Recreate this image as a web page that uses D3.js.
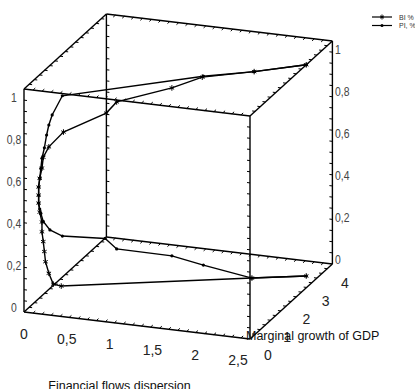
<!DOCTYPE html>
<html>
<head>
<meta charset="utf-8">
<script src="https://cdnjs.cloudflare.com/ajax/libs/d3/7.8.5/d3.min.js"></script>
<style>
  html, body { margin: 0; padding: 0; background: #fff; }
  svg { display: block; }
</style>
</head>
<body>
<svg id="chart" width="415" height="389"></svg>
<script>
// BI % series: financial flows dispersion, marginal growth of GDP, share
const biDispersion = [2.50, 2.04, 1.58, 1.31, 0.82, 0.73, 0.35, 0.22, 0.17, 0.16, 0.14, 0.13, 0.13,
                      0.13, 0.14, 0.16, 0.16, 0.17, 0.18, 0.19, 0.22, 0.26, 0.33, 2.02, 2.50];
const biGrowth     = [2.73, 2.22, 1.72, 1.43, 0.90, 0.79, 0.38, 0.24, 0.19, 0.17, 0.15, 0.14, 0.14,
                      0.14, 0.15, 0.17, 0.17, 0.19, 0.20, 0.21, 0.24, 0.28, 0.36, 2.20, 2.73];
const biShare      = [1.00, 0.99, 0.985, 0.948, 0.906, 0.861, 0.792, 0.731, 0.686, 0.639, 0.594, 0.555, 0.519,
                      0.483, 0.442, 0.397, 0.353, 0.308, 0.263, 0.217, 0.164, 0.114, 0.102, 0.065, 0.053];

// PI, % series
const piDispersion = [2.50, 2.04, 1.59, 0.34, 0.25, 0.22, 0.20, 0.18, 0.16, 0.15, 0.14, 0.13, 0.13,
                      0.13, 0.14, 0.15, 0.17, 0.23, 0.34, 0.72, 0.82, 1.31, 1.59, 2.02, 2.50];
const piGrowth     = [2.73, 2.22, 1.73, 0.37, 0.27, 0.24, 0.22, 0.20, 0.17, 0.16, 0.15, 0.14, 0.14,
                      0.14, 0.15, 0.16, 0.19, 0.25, 0.37, 0.78, 0.90, 1.43, 1.73, 2.20, 2.73];
const piShare      = [1.00, 0.99, 0.989, 0.955, 0.873, 0.829, 0.785, 0.728, 0.683, 0.638, 0.593, 0.555, 0.517,
                      0.483, 0.456, 0.436, 0.398, 0.358, 0.326, 0.299, 0.247, 0.195, 0.142, 0.065, 0.053];

// Axis ticks and labels
const xTicks = [0, 0.5, 1, 1.5, 2, 2.5];
const xTickLabels = ["0", "0,5", "1", "1,5", "2", "2,5"];
const yTicks = [0, 1, 2, 3, 4];
const yTickLabels = ["0", "1", "2", "3", "4"];
const zTicks = [0, 0.2, 0.4, 0.6, 0.8, 1];
const zTickLabels = ["0", "0,2", "0,4", "0,6", "0,8", "1"];
const seriesNames = ["BI %", "PI, %"];

const svg = d3.select("#chart");

// Axis scales normalised to the unit cube
const xScale = d3.scaleLinear().domain([0, 2.5]).range([0, 1]);
const yScale = d3.scaleLinear().domain([0, 4]).range([0, 1]);
const zScale = d3.scaleLinear().domain([0, 1]).range([0, 1]);

// Parallel projection: screen vectors of the three box edges
const origin = [24, 312];
const ex = [226, 27], ey = [82.4, -75], ez = [0, -223];
function project(x, y, z) {
  const a = xScale(x), b = yScale(y), c = zScale(z);
  return [origin[0] + ex[0] * a + ey[0] * b + ez[0] * c,
          origin[1] + ex[1] * a + ey[1] * b + ez[1] * c];
}

const [x0, x1] = xScale.domain(), [y0, y1] = yScale.domain(), [z0, z1] = zScale.domain();
const ink = "#000";

// Box edges with tick marks
const gBox = svg.append("g");
const edges = [];
[y0, y1].forEach(y => [z0, z1].forEach(z => edges.push({axis: "x", y, z, dir: [0, y === y0 ? 1 : -1, 0]})));
[x0, x1].forEach(x => [z0, z1].forEach(z => edges.push({axis: "y", x, z, dir: [x === x0 ? 1 : -1, 0, 0]})));
[x0, x1].forEach(x => [y0, y1].forEach(y => edges.push({axis: "z", x, y, dir: [x === x0 ? 1 : -1, 0, 0]})));

const tickStep = {x: 0.1, y: 0.25, z: 0.05};
const tickLen = 3;

edges.forEach(e => {
  const pt = v => e.axis === "x" ? [v, e.y, e.z] : e.axis === "y" ? [e.x, v, e.z] : [e.x, e.y, v];
  const dom = e.axis === "x" ? [x0, x1] : e.axis === "y" ? [y0, y1] : [z0, z1];
  const a = project(...pt(dom[0])), b = project(...pt(dom[1]));
  gBox.append("line").attr("x1", a[0]).attr("y1", a[1]).attr("x2", b[0]).attr("y2", b[1])
    .attr("stroke", ink).attr("stroke-width", 1.4);
  // tick direction on screen
  const p0 = project(0, 0, 0);
  const p1 = project(e.dir[0] * 0.1, e.dir[1] * 0.1, e.dir[2] * 0.1);
  let dx = p1[0] - p0[0], dy = p1[1] - p0[1];
  const len = Math.hypot(dx, dy); dx = dx / len * tickLen; dy = dy / len * tickLen;
  const step = tickStep[e.axis];
  const n = Math.round((dom[1] - dom[0]) / step);
  d3.range(1, n).forEach(i => {
    const p = project(...pt(dom[0] + i * step));
    gBox.append("line").attr("x1", p[0]).attr("y1", p[1]).attr("x2", p[0] + dx).attr("y2", p[1] + dy)
      .attr("stroke", ink).attr("stroke-width", 1);
  });
});

// Tick labels
const gLab = svg.append("g").attr("font-family", "'Liberation Sans', Arial, sans-serif");

const xLabX = d3.scaleLinear().domain([0, 2.5]).range([24, 238]);
const xLabY = d3.scaleLinear().domain([0, 2.5]).range([334, 360]);
xTicks.forEach((v, i) => {
  gLab.append("text").attr("x", xLabX(v)).attr("y", xLabY(v) + 5)
    .attr("text-anchor", "middle").attr("font-size", 14).attr("fill", "#222").text(xTickLabels[i]);
});

const yLabX = d3.scaleLinear().domain([0, 4]).range([268, 345]);
const yLabY = d3.scaleLinear().domain([0, 4]).range([355, 283]);
yTicks.forEach((v, i) => {
  gLab.append("text").attr("x", yLabX(v)).attr("y", yLabY(v) + 5)
    .attr("text-anchor", "middle").attr("font-size", 14).attr("fill", "#222").text(yTickLabels[i]);
});

const zLabLeft = d3.scaleLinear().domain([0, 1]).range([307, 97]);
const zLabRight = d3.scaleLinear().domain([0, 1]).range([259, 49]);
zTicks.forEach((v, i) => {
  gLab.append("text")
    .attr("transform", `translate(14,${zLabLeft(v) + 4.5}) scale(0.8,1)`)
    .attr("text-anchor", "middle").attr("font-size", 13).attr("fill", "#444").text(zTickLabels[i]);
  gLab.append("text")
    .attr("transform", `translate(335,${zLabRight(v) + 4.5}) scale(0.8,1)`)
    .attr("text-anchor", "start").attr("font-size", 13).attr("fill", "#444").text(zTickLabels[i]);
});

// Axis titles
gLab.append("text").attr("x", 119.5).attr("y", 389.5).attr("text-anchor", "middle")
  .attr("font-size", 12.5).attr("fill", "#111").text("Financial flows dispersion");
gLab.append("text").attr("x", 246).attr("y", 340).attr("text-anchor", "start")
  .attr("font-size", 12.5).attr("fill", "#111").text("Marginal growth of GDP");

// Series
const line = d3.line().x(d => d[0]).y(d => d[1]);
const biPts = biShare.map((z, i) => project(biDispersion[i], biGrowth[i], z));
const piPts = piShare.map((z, i) => project(piDispersion[i], piGrowth[i], z));

function starPath(cx, cy, r) {
  const d = r * 0.8;
  return `M${cx},${cy - r}L${cx},${cy + r}M${cx - d},${cy - d * 0.6}L${cx + d},${cy + d * 0.6}` +
         `M${cx - d},${cy + d * 0.6}L${cx + d},${cy - d * 0.6}`;
}

const gSeries = svg.append("g");
gSeries.append("path").attr("d", line(piPts)).attr("fill", "none").attr("stroke", ink).attr("stroke-width", 1.4);
gSeries.append("path").attr("d", line(biPts)).attr("fill", "none").attr("stroke", ink).attr("stroke-width", 1.4);
gSeries.selectAll("circle.pi").data(piPts).join("circle").attr("class", "pi")
  .attr("cx", d => d[0]).attr("cy", d => d[1]).attr("r", 1.6).attr("fill", ink);
gSeries.selectAll("path.bi").data(biPts).join("path").attr("class", "bi")
  .attr("d", d => starPath(d[0], d[1], 2.8)).attr("stroke", ink).attr("stroke-width", 1).attr("fill", "none");

// Legend
const gLeg = svg.append("g").attr("font-family", "'Liberation Sans', Arial, sans-serif");
const legY = [17, 25.5];
seriesNames.forEach((name, i) => {
  const y = legY[i];
  gLeg.append("line").attr("x1", 372).attr("y1", y).attr("x2", 392).attr("y2", y)
    .attr("stroke", ink).attr("stroke-width", 1.2);
  if (i === 0) {
    gLeg.append("path").attr("d", starPath(382, y, 2.5)).attr("stroke", ink).attr("stroke-width", 1).attr("fill", "none");
  } else {
    gLeg.append("circle").attr("cx", 382).attr("cy", y).attr("r", 1.5).attr("fill", ink);
  }
  gLeg.append("text").attr("x", 399).attr("y", y + 2.5).attr("font-size", 7).attr("fill", "#333").text(name);
});
</script>
</body>
</html>
